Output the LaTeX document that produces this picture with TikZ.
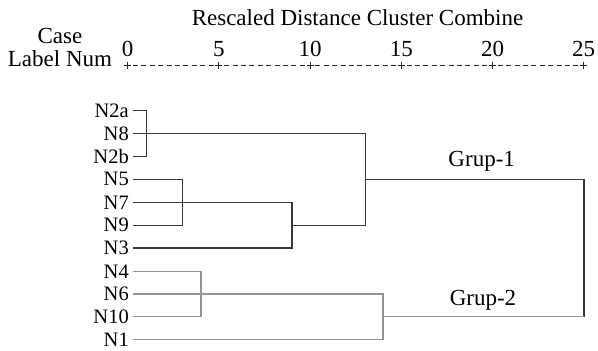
\documentclass[tikz,border=0pt]{standalone}
\usepackage{fontspec}
\setmainfont{Liberation Serif}
\begin{document}
\begin{tikzpicture}[x=1pt,y=-1pt,
 lbl/.style={font=\fontsize{23}{23}\selectfont, inner sep=0pt, anchor=base},
 leaf/.style={font=\fontsize{20.5}{21}\selectfont, inner sep=0pt, anchor=east},
 dk/.style={draw=black!78, line width=1.4pt},
 lt/.style={draw=black!42, line width=1.3pt},
 ax/.style={draw=black!85, line width=1pt}]
\useasboundingbox (0,0) rectangle (598,351);
\node[lbl] (title) at (357.5,25) {Rescaled Distance Cluster Combine};
\node[lbl] (case) at (60,43.5) {Case};
\node[lbl] (lnum) at (60,66) {Label Num};
% axis
\foreach \i in {0,...,5} {
  \pgfmathsetmacro\tx{127.7+91.2*\i}
  \node[lbl] (t\i) at (\tx,56.5) {\the\numexpr5*\i\relax};
  \draw[ax] (\tx-3.5,65) -- (\tx+3.5,65) (\tx,61.5) -- (\tx,68.5);
}
\foreach \i in {0,...,4} {
  \foreach \k in {0,...,9} {
    \pgfmathsetmacro\dx{127.7+91.2*\i+3.5+1.7+8.4*\k}
    \draw[ax] (\dx,65) -- (\dx+5,65);
  }
}
% leaves
\foreach \n/\y in {N2a/110.7, N8/133.3, N2b/156.7, N5/179.3, N7/202.7, N9/225.3, N3/248, N4/271.7, N6/294, N10/316.7, N1/339.3} {
  \node[leaf] (\n) at (129,\y) {\n};
  \coordinate (\n s) at ([xshift=3.5pt]\n.east);
}
% junctions
\coordinate (c1) at (146.7,133.3);
\coordinate (c2) at (182.7,202.7);
\coordinate (c3) at (292,225.3);
\coordinate (c5) at (365.7,179.3);
\coordinate (c7) at (584,316.7);
\coordinate (c8) at (201,294);
\coordinate (c6) at (383,316.7);
% upper group
\draw[dk] (N2as) -| (c1) |- (N2bs);
\draw[dk] (N5s) -| (c2) |- (N9s);
\draw[dk] (N7s) -| (c3) |- (N3s);
\draw[dk] (N8s) -| (c5) |- (c3);
\draw[dk] (c5) -| (c7);
% lower group
\draw[lt] (N4s) -| (c8) |- (N10s);
\draw[lt] (N6s) -| (c6) |- (N1s);
\draw[lt] (c6) -- (c7);
% group labels
\node[lbl] (g1) at (481.7,166.7) {Grup-1};
\node[lbl] (g2) at (483,305) {Grup-2};
\end{tikzpicture}
\end{document}
